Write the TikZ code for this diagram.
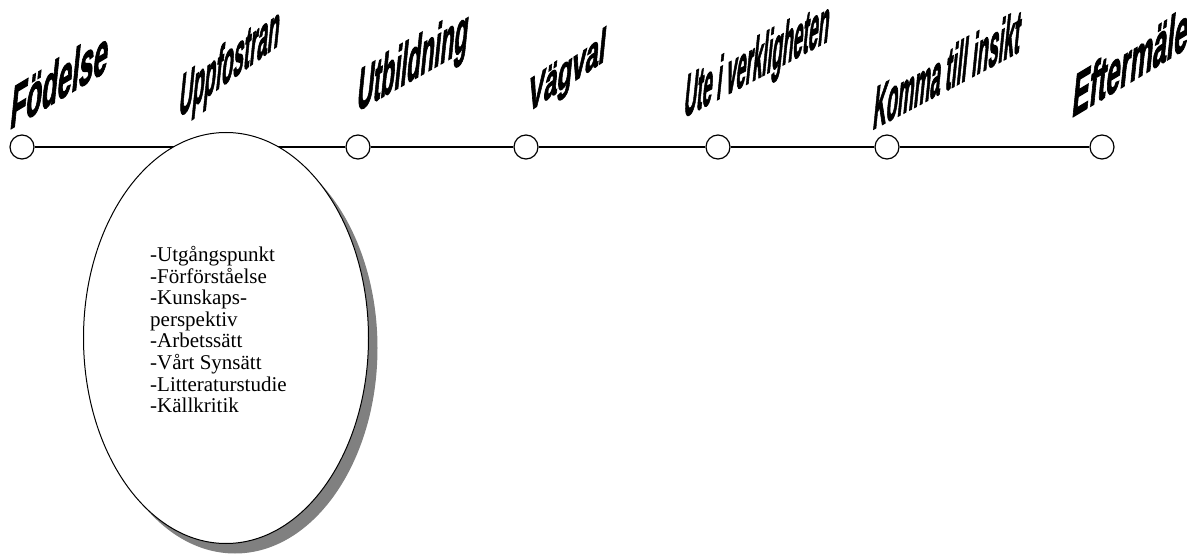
\documentclass[tikz,border=0pt]{standalone}
\usepackage{fontspec}
\setmainfont{Liberation Serif}
\newfontfamily\artfont[FakeBold=2.5]{Liberation Sans}
\usetikzlibrary{shapes.geometric}

\begin{document}
\begin{tikzpicture}[x=1pt, y=1pt,
    stop/.style={circle, draw, line width=1.2pt, fill=white, minimum size=24pt, inner sep=0pt},
    word/.style={anchor=base west, inner sep=0pt, transform shape, xslant=0.1,
      font=\artfont\bfseries\fontsize{62}{64}\selectfont},
    bubble/.style={ellipse, draw, line width=1pt, fill=white, inner sep=0pt,
      minimum width=285pt, minimum height=411pt}]
  \useasboundingbox (0,0) rectangle (1187,555);
  % the time line
  \node[stop] (fodelse) at (22,408) {};
  \node[stop] (utbildning) at (358,408) {};
  \node[stop] (vagval) at (526,408) {};
  \node[stop] (ute) at (718,408) {};
  \node[stop] (komma) at (887,408) {};
  \node[stop] (eftermale) at (1102,408) {};
  \draw[line width=1.5pt] (fodelse) -- (utbildning) -- (vagval) -- (ute) -- (komma) -- (eftermale);

  % the bubble under Uppfostran
  \node[bubble, draw=none, fill=black!50] (skugga) at (235,207) {};
  \node[bubble] (bubbla) at (226,217) {};
  \node[anchor=north west, inner sep=0pt, align=left,
    font=\fontsize{21}{21.6}\selectfont] (lista) at (150,309) {-Utgångspunkt\\-Förförståelse\\-Kunskaps-\\perspektiv\\-Arbetssätt\\-Vårt Synsätt\\-Litteraturstudie\\-Källkritik};

  % the labels
  \node[word, yslant=0.64] (tFodelse) at (9,425) {\scalebox{0.39}[1]{Födelse}};
  \node[word, yslant=0.78] (tUppfostran) at (178,437) {\scalebox{0.28}[1]{Uppfostran}};
  \node[word, yslant=0.6] (tUtbildning) at (356,443) {\scalebox{0.34}[1]{Utbildning}};
  \node[word, yslant=0.72] (tVagval) at (527,442) {\scalebox{0.36}[0.8]{Vägval}};
  \node[word, yslant=0.56] (tUte) at (683,437) {\scalebox{0.265}[1]{Ute i verkligheten}};
  \node[word, yslant=0.56] (tKomma) at (872,425) {\scalebox{0.28}[1]{Komma till insikt}};
  \node[word, yslant=0.64] (tEftermale) at (1071,437) {\scalebox{0.385}[1]{Eftermäle}};
\end{tikzpicture}
\end{document}
